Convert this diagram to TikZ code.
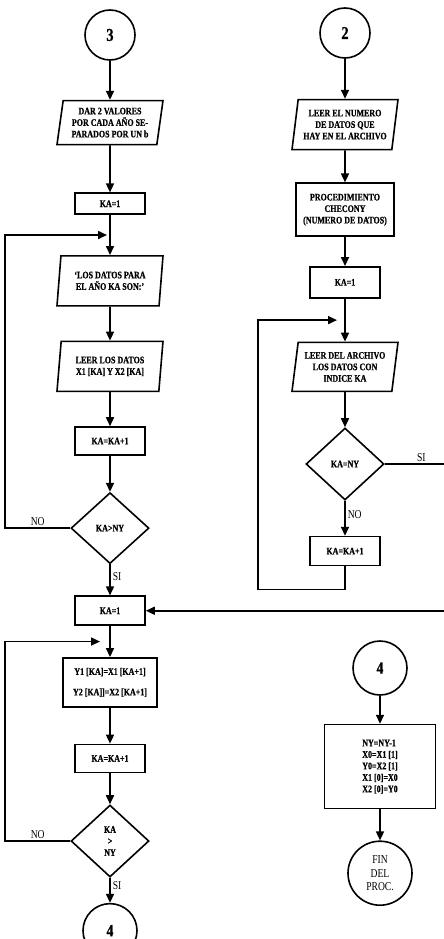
\documentclass[tikz,border=0pt]{standalone}
\usepackage{fontspec}
\setmainfont{Liberation Serif}[FakeStretch=0.8,BoldFeatures={FakeBold=0.6}]
\usetikzlibrary{arrows.meta,shapes,positioning,calc}

\begin{document}
\begin{tikzpicture}[>={Triangle[length=9pt,width=8pt]},line width=1.6pt,
  txt/.style={font=\bfseries\fontsize{10}{11.5}\selectfont,align=center,inner sep=1pt},
  conn/.style={draw,circle,minimum size=50pt,inner sep=0pt,align=center,font=\bfseries\fontsize{18}{18}\selectfont},
  proc/.style={draw,rectangle,txt,minimum width=70pt},
  io/.style={draw,trapezium,trapezium left angle=79,trapezium right angle=101,trapezium stretches body,txt,minimum width=106pt,minimum height=50pt},
  dec/.style={draw,diamond,txt,minimum width=78pt,minimum height=71pt,inner sep=0pt},
  lbl/.style={font=\fontsize{12}{12}\selectfont,inner sep=2pt}]
  \path[use as bounding box,clip] (0,0) rectangle (444pt,-939pt);

  \node[conn] (c3) at (110pt,-35pt) {3};
  \node[io,below=39pt of c3,minimum height=44pt] (dar) {DAR 2 VALORES\\POR CADA AÑO SE-\\PARADOS POR UN b};
  \node[proc,below=47pt of dar,minimum height=21pt] (ka1) {KA=1};
  \node[io,below=40pt of ka1] (msg) {`LOS DATOS PARA\\EL AÑO KA SON:'};
  \node[io,below=34pt of msg] (lee1) {LEER LOS DATOS\\X1 [KA] Y X2 [KA]};
  \node[proc,below=34pt of lee1,minimum height=28pt] (inc1) {KA=KA+1};
  \node[dec,below=36pt of inc1] (d1) {KA>NY};
  \node[proc,below=31pt of d1,minimum height=29pt] (ka2) {KA=1};
  \node[proc,below=31pt of ka2,minimum width=94pt,minimum height=49pt] (sh) {Y1 [KA]=X1 [KA+1]\\[9pt]Y2 [KA]]=X2 [KA+1]};
  \node[proc,below=36pt of sh,minimum height=28pt] (inc2) {KA=KA+1};
  \node[dec,below=31pt of inc2,minimum height=72pt] (d2) {KA\\>\\NY};
  \node[conn,below=25pt of d2,minimum size=54pt,font=\bfseries\fontsize{17}{17}\selectfont] (c4) {4};

  \node[conn] (c2) at (345pt,-33pt) {2};
  \node[io,below=40pt of c2] (lee2) {LEER EL NUMERO\\DE DATOS QUE\\HAY EN EL ARCHIVO};
  \node[proc,below=32pt of lee2,minimum width=98pt,minimum height=53pt] (chk) {PROCEDIMIENTO\\CHECONY\\(NUMERO DE DATOS)};
  \node[proc,below=29pt of chk,minimum height=31pt] (ka3) {KA=1};
  \node[io,below=43pt of ka3,minimum height=49pt] (lee3) {LEER DEL ARCHIVO\\LOS DATOS CON\\INDICE KA};
  \node[dec,below=35pt of lee3,minimum height=72pt] (d3) {KA=NY};
  \node[proc,below=35pt of d3,minimum height=29pt] (inc3) {KA=KA+1};

  \node[conn,minimum size=54pt,font=\bfseries\fontsize{17}{17}\selectfont] (c4b) at (380pt,-668pt) {4};
  \node[proc,below=28pt of c4b,minimum width=111pt,minimum height=84pt,align=left] (ult) {NY=NY-1\\X0=X1 [1]\\Y0=X2 [1]\\X1 [0]=X0\\X2 [0]=Y0};
  \node[conn,below=31pt of ult,minimum size=64pt,font=\fontsize{12}{13.5}\selectfont] (fin) {FIN\\DEL\\PROC.};

  \draw[->] (c3) -- (dar);
  \draw[->] (dar) -- (ka1);
  \draw[->] (ka1) -- (msg);
  \draw[->] (msg) -- (lee1);
  \draw[->] (lee1) -- (inc1);
  \draw[->] (inc1) -- (d1);
  \draw[->] (d1) -- node[lbl,right,pos=.4] {SI} (ka2);
  \draw[->] (ka2) -- (sh);
  \draw[->] (sh) -- (inc2);
  \draw[->] (inc2) -- (d2);
  \draw[->] (d2) -- node[lbl,right,pos=.3] {SI} (c4);
  \draw[->,shorten >=3pt] (d1.west) -- node[lbl,above] {NO} ++(-65pt,0) |- ($(ka1.south)!.5!(msg.north)$);
  \draw[->,shorten >=10pt] (d2.west) -- node[lbl,above] {NO} ++(-65pt,0) |- ($(ka2.south)!.5!(sh.north)$);

  \draw[->] (c2) -- (lee2);
  \draw[->] (lee2) -- (chk);
  \draw[->] (chk) -- (ka3);
  \draw[->] (ka3) -- (lee3);
  \draw[->] (lee3) -- (d3);
  \draw[->] (d3) -- node[lbl,right,pos=.4] {NO} (inc3);
  \draw[->,shorten >=8pt] (inc3.south) -- ++(0,-23pt) -| ($(d3.west)+(-47pt,0)$) |- ($(ka3.south)!.5!(lee3.north)$);
  \draw[->] (d3.east) -- node[lbl,above] {SI} ++(73pt,0) |- (ka2.east);

  \draw[->] (c4b) -- (ult);
  \draw[->] (ult) -- (fin);
\end{tikzpicture}
\end{document}
